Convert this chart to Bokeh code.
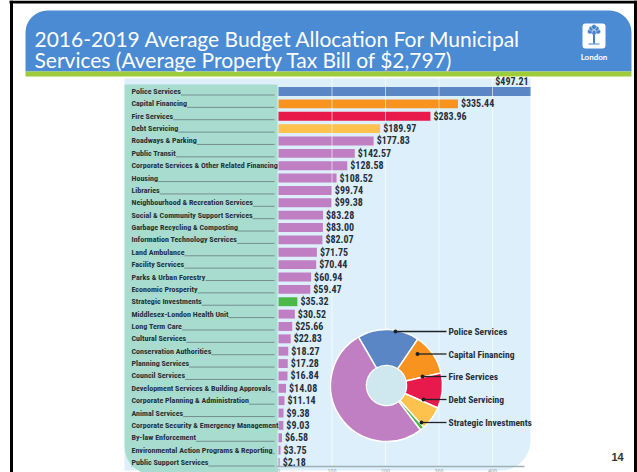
import math
from bokeh.plotting import figure
from bokeh.models import Range1d, BoxAnnotation, ColumnDataSource, LabelSet
from bokeh.core.properties import value
from bokeh.embed import file_html
from bokeh.resources import INLINE

# ---------------- data ----------------
title_lines = ["2016-2019 Average Budget Allocation For Municipal",
               "Services (Average Property Tax Bill of $2,797)"]
categories = [
    "Police Services", "Capital Financing", "Fire Services", "Debt Servicing",
    "Roadways & Parking", "Public Transit",
    "Corporate Services & Other Related Financing", "Housing", "Libraries",
    "Neighbourhood & Recreation Services", "Social & Community Support Services",
    "Garbage Recycling & Composting", "Information Technology Services",
    "Land Ambulance", "Facility Services", "Parks & Urban Forestry",
    "Economic Prosperity", "Strategic Investments",
    "Middlesex-London Health Unit", "Long Term Care", "Cultural Services",
    "Conservation Authorities", "Planning Services", "Council Services",
    "Development Services & Building Approvals",
    "Corporate Planning & Administration", "Animal Services",
    "Corporate Security & Emergency Management", "By-law Enforcement",
    "Environmental Action Programs & Reporting", "Public Support Services",
]
amounts = [497.21, 335.44, 283.96, 189.97, 177.83, 142.57, 128.58, 108.52,
           99.74, 99.38, 83.28, 83.00, 82.07, 71.75, 70.44, 60.94, 59.47,
           35.32, 30.52, 25.66, 22.83, 18.27, 17.28, 16.84, 14.08, 11.14,
           9.38, 9.03, 6.58, 3.75, 2.18]
pie_groups = ["Police Services", "Capital Financing", "Fire Services",
              "Debt Servicing", "Strategic Investments"]
x_ticks = [0, 100, 200, 300, 400]
logo_text = "London"
page_number = "14"

# ---------------- style / layout ----------------
highlight = {"Police Services": "#5b86c6", "Capital Financing": "#f7931e",
             "Fire Services": "#e8194b", "Debt Servicing": "#fdc24e",
             "Strategic Investments": "#4cb848"}
OTHER = "#c07fc2"
NARROW = "Roboto Condensed"
DARK = "#27313c"
TEAL = "#a8dccf"

W, H, OFF = 637, 472, 0
X0, KX = 278.0, 0.535      # screen x of zero, px per dollar
Y0, KY = 91.0, 12.367      # screen y of first row, px per row


def dx(px):
    return (px - X0) / KX


def dy(py):
    return (Y0 - py) / KY


XMAX = dx(530)

p = figure(width=W, height=H, output_backend="svg", toolbar_location=None,
           x_range=Range1d(dx(OFF), dx(OFF + W)),
           y_range=Range1d(dy(OFF + H), dy(OFF)),
           x_axis_type=None, y_axis_type=None, min_border=0,
           outline_line_color=None, background_fill_color="white",
           border_fill_color="white")

# panels
p.add_layout(BoxAnnotation(left=dx(25), right=dx(631), top=dy(10), bottom=dy(71),
                           fill_color="#4a8bd4", fill_alpha=1, line_color=None,
                           border_radius=(22, 22, 0, 0), level="underlay"))
p.add_layout(BoxAnnotation(left=dx(25), right=dx(631), top=dy(71), bottom=dy(76),
                           fill_color="#9dcb3a", fill_alpha=1, line_color=None,
                           level="underlay"))
p.add_layout(BoxAnnotation(left=dx(124), right=dx(530), top=dy(78), bottom=dy(470),
                           fill_color="#ddeffa", fill_alpha=1, line_color=None,
                           border_radius=(0, 0, 30, 0), level="underlay"))
p.add_layout(BoxAnnotation(left=dx(124), right=dx(277), top=dy(84), bottom=dy(474),
                           fill_color=TEAL, fill_alpha=1, line_color=None,
                           border_radius=(0, 0, 0, 28), level="underlay"))
p.add_layout(BoxAnnotation(left=dx(582), right=dx(605), top=dy(23), bottom=dy(48),
                           fill_color="white", fill_alpha=1, line_color=None,
                           border_radius=3, level="underlay"))

# slide frame
p.segment(x0=[dx(11), dx(635), dx(9)], y0=[dy(0), dy(0), dy(1.5)],
          x1=[dx(11), dx(635), dx(637)], y1=[dy(472), dy(472), dy(1.5)],
          line_color="black", line_width=3)

# title
p.text(x=[dx(34)] * 2, y=[dy(38), dy(59)], text=title_lines,
       text_color="white", text_font=value("Lato"), text_font_size="21px",
       text_baseline="middle")

# logo (tree icon)
tx = dx(593.5)
p.scatter(x=[tx, dx(589.5), dx(597.5), dx(591), dx(596), dx(593.5)],
          y=[dy(32), dy(31), dy(31), dy(28), dy(28), dy(26.5)],
          size=5, marker="circle", fill_color="#3f7fcb", line_color="white",
          line_width=0.5)
p.segment(x0=[tx], y0=[dy(34)], x1=[tx], y1=[dy(43)], line_color="#3f7fcb",
          line_width=2)
p.segment(x0=[dx(588)], y0=[dy(43.5)], x1=[dx(599)], y1=[dy(43.5)],
          line_color="#3f7fcb", line_width=1.2)
p.text(x=[dx(593.5)], y=[dy(56)], text=[logo_text], text_color="white",
       text_font=value("Lato"), text_font_style="bold",
       text_font_size="8px", text_align="center", text_baseline="middle")

# bars
n = len(categories)
rows = [-i for i in range(n)]
colors = [highlight.get(c, OTHER) for c in categories]
rights = [min(v, XMAX) for v in amounts]
labs = ["$%.2f" % v for v in amounts]
src = ColumnDataSource(dict(y=rows, right=rights, color=colors))
p.hbar(y="y", left=0, right="right", height=0.72, fill_color="color",
       line_color=None, source=src)

# grid lines over bars
p.segment(x0=x_ticks[1:], y0=[dy(78)] * 4, x1=x_ticks[1:], y1=[dy(466)] * 4,
          line_color="white", line_alpha=0.6, line_width=1)

# x axis line and (small) tick labels
p.segment(x0=[dx(276)], y0=[dy(466)], x1=[dx(524)], y1=[dy(466)],
          line_color="#9fb0b8", line_width=1.5)
p.text(x=x_ticks, y=[dy(472)] * len(x_ticks), text=[str(t) for t in x_ticks],
       text_align="center", text_baseline="bottom", text_font=value(NARROW),
       text_font_size="6px", text_color="#9aa7ad")

# value labels
p.text(x=rights[1:], y=rows[1:], text=labs[1:], x_offset=3,
       text_baseline="middle", text_font=value(NARROW), text_font_style="bold",
       text_font_size="10px", text_color=DARK)
p.text(x=[XMAX], y=[rows[0]], text=[labs[0]], y_offset=-10,
       x_offset=-2, text_align="right", text_baseline="middle",
       text_font=value(NARROW), text_font_style="bold",
       text_font_size="10px", text_color=DARK)

# category labels with leader lines
p.segment(x0=[dx(131)] * n, y0=[r - 3.5 / KY for r in rows], x1=[dx(274)] * n,
          y1=[r - 3.5 / KY for r in rows], line_color="#5f6e72", line_width=0.7)
lbl_src = ColumnDataSource(dict(x=[dx(131)] * n, y=rows, cat=categories))
p.add_layout(LabelSet(x="x", y="y", text="cat", source=lbl_src,
                      text_baseline="middle", text_font=value(NARROW),
                      text_font_size="8px", text_font_style="bold",
                      text_color=DARK, background_fill_color=TEAL,
                      background_fill_alpha=1))

# donut
total = sum(amounts)
pie_vals = [amounts[categories.index(c)] for c in pie_groups]
pie_vals.append(total - sum(pie_vals))
pie_cols = [highlight[c] for c in pie_groups] + [OTHER]
START = 120.0
starts, ends = [], []
cum = 0.0
for v in pie_vals:
    a0 = START - 360.0 * cum / total
    cum += v
    a1 = START - 360.0 * cum / total
    starts.append(math.radians(a1))
    ends.append(math.radians(a0))
CX, CY = dx(386), dy(385)
p.annular_wedge(x=CX, y=CY, inner_radius=20, outer_radius=56,
                inner_radius_units="screen", outer_radius_units="screen",
                start_angle=starts, end_angle=ends, direction="anticlock",
                fill_color=pie_cols, line_color="white", line_width=1.5)
p.circle(x=[CX], y=[CY], radius=19.5, radius_units="screen",
         fill_color="#cfe7ee", line_color=None)

# donut callouts
lab_y = [331, 353.5, 376, 399, 422]
dot_x = [395, 417, 422, 423, 421]
p.segment(x0=[dx(v) for v in dot_x], y0=[dy(v) for v in lab_y],
          x1=[dx(446)] * 5, y1=[dy(v) for v in lab_y],
          line_color="#1e2227", line_width=1.3)
p.scatter(x=[dx(v) for v in dot_x], y=[dy(v) for v in lab_y], size=4,
          fill_color="#1e2227", line_color=None)
p.text(x=[dx(448)] * 5, y=[dy(v) for v in lab_y], text=pie_groups,
       text_baseline="middle", text_font=value(NARROW), text_font_style="bold",
       text_font_size="9.5px", text_color=DARK)

# page number
p.text(x=[dx(617)], y=[dy(456)], text=[page_number], text_align="center",
       text_baseline="middle", text_font=value("Liberation Sans"),
       text_font_style="bold", text_font_size="11px", text_color="#333333")

open("out.html", "w").write(file_html(p, INLINE))
